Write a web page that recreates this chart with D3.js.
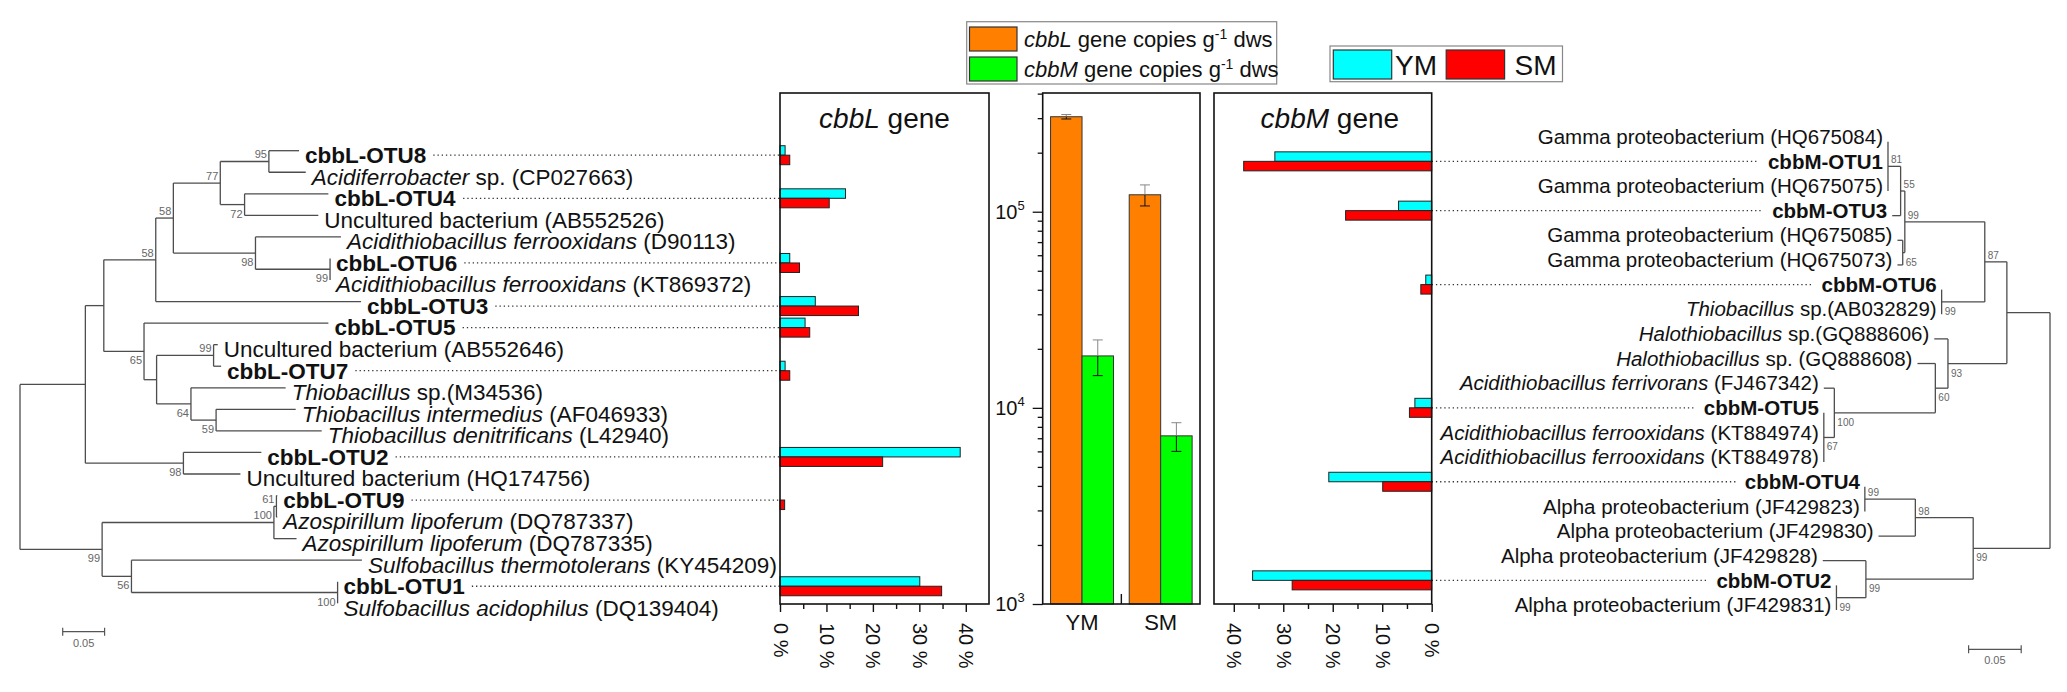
<!DOCTYPE html>
<html>
<head>
<meta charset="utf-8">
<script src="https://cdn.jsdelivr.net/npm/d3@7"></script>
<style>
  body { margin: 0; background: #fff; }
  text { font-family: "Liberation Sans", Arial, sans-serif; }
</style>
</head>
<body>
<script>
// ---- data ----
var leftLeaves = ["cbbL-OTU8", "_Acidiferrobacter_ sp. (CP027663)", "cbbL-OTU4", "Uncultured bacterium (AB552526)",
  "_Acidithiobacillus ferrooxidans_ (D90113)", "cbbL-OTU6", "_Acidithiobacillus ferrooxidans_ (KT869372)",
  "cbbL-OTU3", "cbbL-OTU5", "Uncultured bacterium (AB552646)", "cbbL-OTU7", "_Thiobacillus_ sp.(M34536)",
  "_Thiobacillus intermedius_ (AF046933)", "_Thiobacillus denitrificans_ (L42940)", "cbbL-OTU2",
  "Uncultured bacterium (HQ174756)", "cbbL-OTU9", "_Azospirillum lipoferum_ (DQ787337)",
  "_Azospirillum lipoferum_ (DQ787335)", "_Sulfobacillus thermotolerans_ (KY454209)", "cbbL-OTU1",
  "_Sulfobacillus acidophilus_ (DQ139404)"];
// leaves are indices into leftLeaves, internal labels are bootstrap values
var leftNewick = "(((((((0:0.036,1:0.044)95:0.058,(2:0.100,3:0.088)72:0.029)77:0.056,(4:0.102,(5:0,6:0)99:0.089)98:0.098)58:0.021,7:0.245)58:0.062,(8:0.220,((9:0.005,10:0.009)99:0.068,(11:0.113,(12:0.095,13:0.126)59:0.030)64:0.041):0.015)65:0.048):0.022,(14:0.093,15:0.068)98:0.117):0.078,(((16:0.001,17:0.001)61:0.003,18:0.027)100:0.205,(19:0.275,(20:0,21:0)100:0.246)56:0.035)99:0.098);";

var rightLeaves = ["Gamma proteobacterium (HQ675084)", "cbbM-OTU1", "Gamma proteobacterium (HQ675075)", "cbbM-OTU3",
  "Gamma proteobacterium (HQ675085)", "Gamma proteobacterium (HQ675073)", "cbbM-OTU6", "_Thiobacillus_ sp.(AB032829)",
  "_Halothiobacillus_ sp.(GQ888606)", "_Halothiobacillus_ sp. (GQ888608)", "_Acidithiobacillus ferrivorans_ (FJ467342)",
  "cbbM-OTU5", "_Acidithiobacillus ferrooxidans_ (KT884974)", "_Acidithiobacillus ferrooxidans_ (KT884978)",
  "cbbM-OTU4", "Alpha proteobacterium (JF429823)", "Alpha proteobacterium (JF429830)", "Alpha proteobacterium (JF429828)",
  "cbbM-OTU2", "Alpha proteobacterium (JF429831)"];
var rightNewick = "((((((0:0,1:0,2:0)81:0.012,3:0.008)55:0.004,(4:0.005,5:0.005)65:0.002)99:0.076,(6:0,7:0)99:0.041)87:0.021,(8:0.013,(9:0.017,(10:0.010,(11:0,12:0,13:0)67:0.010)100:0.096)60:0.012)93:0.056):0.041,(((14:0,15:0)99:0.048,16:0.035)98:0.055,(17:0.041,(18:0,19:0)99:0.028)99:0.102)99:0.073);";

var cbblOtus = ["cbbL-OTU8", "cbbL-OTU4", "cbbL-OTU6", "cbbL-OTU3", "cbbL-OTU5", "cbbL-OTU7", "cbbL-OTU2", "cbbL-OTU9", "cbbL-OTU1"];
var cbblYM = [1.1, 14.1, 2.1, 7.6, 5.4, 1.1, 38.8, 0, 30.1];
var cbblSM = [2.1, 10.6, 4.2, 16.9, 6.4, 2.1, 22.1, 1.0, 34.8];

var cbbmOtus = ["cbbM-OTU1", "cbbM-OTU3", "cbbM-OTU6", "cbbM-OTU5", "cbbM-OTU4", "cbbM-OTU2"];
var cbbmYM = [31.7, 6.7, 1.2, 3.4, 20.8, 36.2];
var cbbmSM = [38.0, 17.4, 2.2, 4.5, 9.9, 28.2];

var sites = ["YM", "SM"];
var genes = ["cbbL", "cbbM"];
var cbblCopies = [3.05e5, 1.22e5];
var cbblErr = [8e3, 1.5e4];
var cbbmCopies = [1.84e4, 7.2e3];
var cbbmErr = [3.8e3, 1.2e3];

var pctTicks = [0, 10, 20, 30, 40];
var copyTicks = [1e3, 1e4, 1e5];

// ---- layout ----
var W = 2067, H = 692;
var panelTop = 93, panelBottom = 604;
var pL = {x0: 780, x1: 989}, pC = {x0: 1042.7, x1: 1200}, pM = {x0: 1214, x1: 1431.7};
var barH = 9.5;
var colYM = "#00ffff", colSM = "#ff0000", colL = "#ff8000", colM = "#00ff00";

var svg = d3.select("body").append("svg").attr("width", W).attr("height", H);

var rowL = d3.scalePoint().domain(leftLeaves).range([155.2, 607.8]);
var rowR = d3.scalePoint().domain(rightLeaves).range([136.7, 605]);
var treeXL = d3.scaleLinear().domain([0, 0.05]).range([20, 61.9]);
var treeXR = d3.scaleLinear().domain([0, 0.05]).range([2050, 1997.4]);

var xL = d3.scaleLinear().domain([0, 45]).range([pL.x0, pL.x1]);
var xM = d3.scaleLinear().domain([0, 44]).range([pM.x1, pM.x0]);
var yC = d3.scaleLog().domain([1e3, 4.03e5]).range([panelBottom, panelTop]);
var xC = d3.scaleBand().domain(sites).range([pC.x0, pC.x1]).paddingInner(0.2).paddingOuter(0.1);
var xG = d3.scaleBand().domain(genes).range([0, xC.bandwidth()]);

function parseNewick(s) {
  var ancestors = [], tree = {}, tokens = s.split(/\s*(;|\(|\)|,|:)\s*/);
  for (var i = 0; i < tokens.length; i++) {
    var t = tokens[i], sub;
    switch (t) {
      case "(": sub = {}; tree.children = [sub]; ancestors.push(tree); tree = sub; break;
      case ",": sub = {}; ancestors[ancestors.length - 1].children.push(sub); tree = sub; break;
      case ")": tree = ancestors.pop(); break;
      case ":": break;
      default:
        var p = tokens[i - 1];
        if (p == ")" || p == "(" || p == ",") tree.name = t;
        else if (p == ":") tree.length = parseFloat(t);
    }
  }
  return tree;
}

function richText(sel, str) {
  str.split("_").forEach(function(part, i) {
    if (part) sel.append("tspan").attr("font-style", i % 2 ? "italic" : null).text(part);
  });
}

// side: 1 = tips to the right (left tree), -1 = mirrored (right tree)
function drawTree(newick, labels, tx, row, side, off, fs, bfs) {
  var root = d3.hierarchy(parseNewick(newick));
  root.each(function(d) { d.dist = d.parent ? d.parent.dist + (d.data.length || 0) : 0; });
  root.eachAfter(function(d) {
    d.px = tx(d.dist);
    if (!d.children) { d.label = labels[+d.data.name]; d.ty = row(d.label); d.by = d.ty + off; }
    else d.by = (d.children[0].by + d.children[d.children.length - 1].by) / 2;
  });
  var g = svg.append("g");
  var lines = g.append("g").attr("stroke", "#4d4d4d").attr("stroke-width", 1.3);
  lines.selectAll(null).data(root.descendants().filter(function(d) { return d.parent; }))
    .enter().append("line")
    .attr("x1", function(d) { return d.parent.px; }).attr("x2", function(d) { return d.px; })
    .attr("y1", function(d) { return d.by; }).attr("y2", function(d) { return d.by; });
  lines.selectAll(null).data(root.descendants().filter(function(d) { return d.children; }))
    .enter().append("line")
    .attr("x1", function(d) { return d.px; }).attr("x2", function(d) { return d.px; })
    .attr("y1", function(d) { return d.children[0].by; })
    .attr("y2", function(d) { return d.children[d.children.length - 1].by; });

  // bootstrap values
  g.selectAll(null).data(root.descendants().filter(function(d) { return d.children && d.data.name; }))
    .enter().append("text")
    .attr("x", function(d) { return side > 0 ? d.px - 2 : d.px + 3; })
    .attr("y", function(d) { return d.parent.children.indexOf(d) === 0 ? d.by - 3 : d.by + 13; })
    .attr("text-anchor", side > 0 ? "end" : "start")
    .attr("font-size", bfs).attr("fill", "#666")
    .text(function(d) { return d.data.name; });

  // leaf names
  g.selectAll(null).data(root.leaves()).enter().append("text")
    .attr("x", function(d) { return side > 0 ? d.px + 6 : d.px - 5; })
    .attr("y", function(d) { return d.ty; }).attr("dy", "0.35em")
    .attr("text-anchor", side > 0 ? "start" : "end")
    .attr("font-size", fs).attr("fill", "#111")
    .attr("font-weight", function(d) { return d.label.indexOf("cbb") === 0 ? "bold" : null; })
    .each(function(d) { richText(d3.select(this), d.label); d.node = this; });
  return root;
}

var leftRoot = drawTree(leftNewick, leftLeaves, treeXL, rowL, 1, -4.5, 22.5, 11);
var rightRoot = drawTree(rightNewick, rightLeaves, treeXR, rowR, -1, 5, 20.5, 10);

// dotted connectors from OTU names to bars
var dots = svg.append("g").attr("stroke", "#333").attr("stroke-width", 1.3).attr("stroke-dasharray", "1.3,2.9");
leftRoot.leaves().filter(function(d) { return cbblOtus.indexOf(d.label) >= 0; }).forEach(function(d) {
  var b = d.node.getBBox();
  dots.append("line").attr("x1", b.x + b.width + 7).attr("x2", pL.x0).attr("y1", d.ty).attr("y2", d.ty);
});
rightRoot.leaves().filter(function(d) { return cbbmOtus.indexOf(d.label) >= 0; }).forEach(function(d) {
  var b = d.node.getBBox();
  dots.append("line").attr("x1", pM.x1).attr("x2", b.x - 9).attr("y1", d.ty).attr("y2", d.ty);
});

// scale bars
function scaleBar(tx, x0, y) {
  var w = Math.abs(tx(0.05) - tx(0));
  var g = svg.append("g").attr("stroke", "#555").attr("stroke-width", 1.2);
  g.append("line").attr("x1", x0).attr("x2", x0 + w).attr("y1", y).attr("y2", y);
  g.append("line").attr("x1", x0).attr("x2", x0).attr("y1", y - 4).attr("y2", y + 4);
  g.append("line").attr("x1", x0 + w).attr("x2", x0 + w).attr("y1", y - 4).attr("y2", y + 4);
  svg.append("text").attr("x", x0 + w / 2).attr("y", y + 15).attr("text-anchor", "middle")
    .attr("font-size", 11).attr("fill", "#666").text("0.05");
}
scaleBar(treeXL, 62.7, 631.7);
scaleBar(treeXR, 1968.6, 649.3);

// ---- horizontal relative-abundance bars ----
function hbars(otus, ym, sm, x, row) {
  var g = svg.append("g").attr("stroke", "#222").attr("stroke-width", 1);
  [[ym, colYM, -barH], [sm, colSM, 0]].forEach(function(s) {
    g.selectAll(null).data(otus.filter(function(d, i) { return s[0][i] > 0; }))
      .enter().append("rect")
      .attr("x", function(d) { var v = s[0][otus.indexOf(d)]; return Math.min(x(0), x(v)); })
      .attr("width", function(d) { var v = s[0][otus.indexOf(d)]; return Math.abs(x(v) - x(0)); })
      .attr("y", function(d) { return row(d) + s[2]; })
      .attr("height", barH).attr("fill", s[1]);
  });
}
hbars(cbblOtus, cbblYM, cbblSM, xL, rowL);
hbars(cbbmOtus, cbbmYM, cbbmSM, xM, rowR);

function pctAxis(x) {
  var ax = svg.append("g").attr("transform", "translate(0," + panelBottom + ")")
    .call(d3.axisBottom(x).tickValues(d3.range(0, 45, 5)).tickSizeOuter(0)
      .tickFormat(function(d) { return pctTicks.indexOf(d) >= 0 ? d + " %" : ""; }));
  ax.select(".domain").remove();
  ax.selectAll(".tick line").attr("stroke", "#111").attr("stroke-width", 1.4)
    .attr("y2", function(d) { return d % 10 === 0 ? 8 : 5; });
  ax.selectAll(".tick text").attr("font-size", 20).attr("fill", "#111")
    .attr("transform", "rotate(90)").attr("text-anchor", "start")
    .attr("x", 19).attr("y", 0).attr("dy", "0.35em");
}
pctAxis(xL);
pctAxis(xM);

// ---- gene copies panel ----
var cg = svg.append("g");
[[cbblCopies, cbblErr, colL, "cbbL"], [cbbmCopies, cbbmErr, colM, "cbbM"]].forEach(function(s) {
  sites.forEach(function(site, i) {
    var x0 = xC(site) + xG(s[3]), bw = xG.bandwidth(), cx = x0 + bw / 2;
    var top = yC(s[0][i]), hi = yC(s[0][i] + s[1][i]), lo = yC(s[0][i] - s[1][i]);
    cg.append("rect").attr("x", x0).attr("y", top).attr("width", bw).attr("height", panelBottom - top)
      .attr("fill", s[2]).attr("stroke", "#333").attr("stroke-width", 1);
    cg.append("line").attr("x1", cx).attr("x2", cx).attr("y1", hi).attr("y2", top).attr("stroke", "#888");
    cg.append("line").attr("x1", cx - 5).attr("x2", cx + 5).attr("y1", hi).attr("y2", hi).attr("stroke", "#888");
    cg.append("line").attr("x1", cx).attr("x2", cx).attr("y1", top).attr("y2", lo).attr("stroke", "#111");
    cg.append("line").attr("x1", cx - 5).attr("x2", cx + 5).attr("y1", lo).attr("y2", lo).attr("stroke", "#111");
  });
});
var yax = svg.append("g").attr("transform", "translate(" + pC.x0 + ",0)")
  .call(d3.axisLeft(yC).tickValues(yC.ticks()).tickFormat("").tickSizeOuter(0));
yax.select(".domain").remove();
yax.selectAll(".tick line").attr("stroke", "#111").attr("stroke-width", 1.3)
  .attr("x2", function(d) { return copyTicks.indexOf(d) >= 0 ? -10 : -5; });
copyTicks.forEach(function(v) {
  var t = svg.append("text").attr("x", pC.x0 - 18).attr("y", yC(v) + 7)
    .attr("text-anchor", "end").attr("font-size", 20).attr("fill", "#111");
  t.append("tspan").text("10");
  t.append("tspan").attr("font-size", 13).attr("dy", -9).text(Math.round(Math.log10(v)));
});
// tick between the two sites
var mid = xC(sites[1]) - xC.step() * xC.paddingInner() / 2;
svg.append("line").attr("x1", mid).attr("x2", mid).attr("y1", panelBottom).attr("y2", panelBottom - 10)
  .attr("stroke", "#111").attr("stroke-width", 1.4);
svg.selectAll(null).data(sites).enter().append("text")
  .attr("x", function(d) { return xC(d) + xC.bandwidth() / 2; }).attr("y", 630)
  .attr("text-anchor", "middle").attr("font-size", 22).attr("fill", "#111").text(function(d) { return d; });

// panel frames and titles
[pL, pC, pM].forEach(function(p) {
  svg.append("rect").attr("x", p.x0).attr("y", panelTop).attr("width", p.x1 - p.x0)
    .attr("height", panelBottom - panelTop).attr("fill", "none").attr("stroke", "#111").attr("stroke-width", 1.6);
});
[[pL, "_cbbL_ gene", 0], [pM, "_cbbM_ gene", 7]].forEach(function(s) {
  var t = svg.append("text").attr("x", (s[0].x0 + s[0].x1) / 2 + s[2]).attr("y", 128)
    .attr("text-anchor", "middle").attr("font-size", 28).attr("fill", "#111");
  richText(t, s[1]);
});

// ---- legends ----
var l1 = svg.append("g");
l1.append("rect").attr("x", 966.7).attr("y", 21.7).attr("width", 310).attr("height", 62.3)
  .attr("fill", "#fff").attr("stroke", "#888").attr("stroke-width", 1.2);
[[colL, "cbbL"], [colM, "cbbM"]].forEach(function(s, i) {
  var y = 27 + i * 30;
  l1.append("rect").attr("x", 969.5).attr("y", y).attr("width", 47.5).attr("height", 24)
    .attr("fill", s[0]).attr("stroke", "#333").attr("stroke-width", 1.2);
  var t = l1.append("text").attr("x", 1024).attr("y", y + 20).attr("font-size", 22).attr("fill", "#111");
  t.append("tspan").attr("font-style", "italic").text(s[1]);
  t.append("tspan").text(" gene copies g");
  t.append("tspan").attr("font-size", 14).attr("dy", -8).text("-1");
  t.append("tspan").attr("dy", 8).text(" dws");
});
var l2 = svg.append("g");
l2.append("rect").attr("x", 1330).attr("y", 46).attr("width", 232.5).attr("height", 35.7)
  .attr("fill", "#fff").attr("stroke", "#888").attr("stroke-width", 1.2);
[[colYM, "YM", 1333.3, 1395], [colSM, "SM", 1446.2, 1514.6]].forEach(function(s) {
  l2.append("rect").attr("x", s[2]).attr("y", 50).attr("width", 58.4).attr("height", 29)
    .attr("fill", s[0]).attr("stroke", "#333").attr("stroke-width", 1.2);
  l2.append("text").attr("x", s[3]).attr("y", 74.5).attr("font-size", 28).attr("fill", "#111").text(s[1]);
});
</script>
</body>
</html>
